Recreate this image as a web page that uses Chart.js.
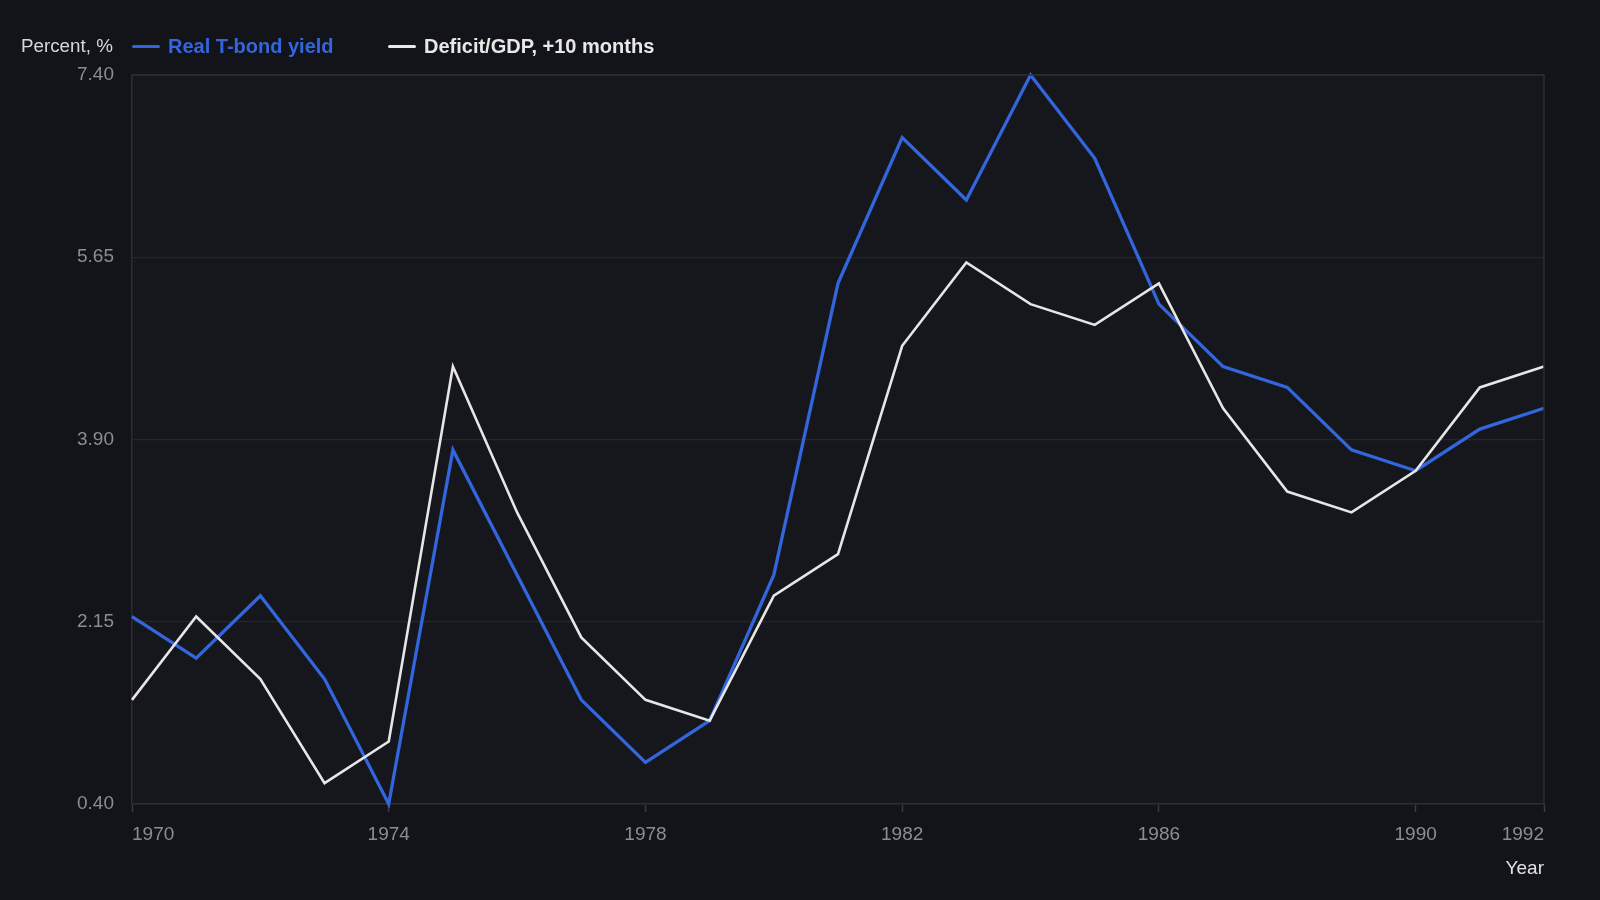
<!DOCTYPE html>
<html lang="en">
<head>
    <meta charset="UTF-8">
    <title>Real T-bond yield vs Deficit/GDP</title>
    <script src="https://cdn.jsdelivr.net/npm/chart.js"></script>
    <style>
        html, body { margin: 0; padding: 0; background: #131419; }
        #wrap { position: relative; width: 1600px; height: 900px; font-family: "Liberation Sans", Arial, sans-serif; }
        #header { position: absolute; top: 33px; left: 0; height: 26px; width: 1600px; }
        .unit { position: absolute; left: 21px; top: 0; font-size: 18.8px; color: #d8d8da; line-height: 26px; }
        .item { position: absolute; top: 0; font-size: 20px; font-weight: bold; line-height: 26px; white-space: nowrap; }
        .item .sw { display: inline-block; width: 28px; height: 3px; border-radius: 2px; vertical-align: middle; margin-right: 8px; position: relative; top: -1px; }
    </style>
</head>
<body>
<div id="wrap">
    <div id="header">
        <span class="unit">Percent, %</span>
        <span class="item" style="left:132px;color:#3366dd"><span class="sw" style="background:#3366dd"></span>Real T-bond yield</span>
        <span class="item" style="left:388px;color:#e8e8e8"><span class="sw" style="background:#e8e8e8"></span>Deficit/GDP, +10 months</span>
    </div>
    <canvas id="chart" width="1600" height="900"></canvas>
</div>
<script>
    // data
    const years = [1970, 1971, 1972, 1973, 1974, 1975, 1976, 1977, 1978, 1979, 1980, 1981,
                   1982, 1983, 1984, 1985, 1986, 1987, 1988, 1989, 1990, 1991, 1992];
    const bondYield = [2.20, 1.80, 2.40, 1.60, 0.40, 3.80, 2.60, 1.40, 0.80, 1.20, 2.60, 5.40,
                       6.80, 6.20, 7.40, 6.60, 5.20, 4.60, 4.40, 3.80, 3.60, 4.00, 4.20];
    const deficitGdp = [1.40, 2.20, 1.60, 0.60, 1.00, 4.60, 3.20, 2.00, 1.40, 1.20, 2.40, 2.80,
                        4.80, 5.60, 5.20, 5.00, 5.40, 4.20, 3.40, 3.20, 3.60, 4.40, 4.60];
    const xTicks = [1970, 1974, 1978, 1982, 1986, 1990, 1992];
    const yTicks = [0.40, 2.15, 3.90, 5.65, 7.40];

    const toPoints = vals => vals.map((v, i) => ({ x: years[i], y: v }));

    // background and framed plot area
    const frame = {
        id: 'frame',
        beforeDraw(chart) {
            const { ctx, chartArea: a } = chart;
            ctx.save();
            ctx.fillStyle = '#131419';
            ctx.fillRect(0, 0, chart.width, chart.height);
            ctx.fillStyle = '#16171c';
            ctx.fillRect(a.left, a.top, a.right - a.left, a.bottom - a.top);
            ctx.restore();
        },
        afterDatasetsDraw(chart) {
            const { ctx, chartArea: a } = chart;
            ctx.save();
            ctx.strokeStyle = '#2c2d33';
            ctx.lineWidth = 1.5;
            ctx.beginPath();
            ctx.moveTo(a.left, a.top);
            ctx.lineTo(a.right, a.top);
            ctx.lineTo(a.right, a.bottom);
            ctx.stroke();
            ctx.restore();
        }
    };

    Chart.defaults.font.family = '"Liberation Sans", Arial, sans-serif';
    Chart.defaults.animation = false;

    new Chart(document.getElementById('chart'), {
        type: 'line',
        data: {
            datasets: [
                {
                    label: 'Deficit/GDP, +10 months',
                    data: toPoints(deficitGdp),
                    borderColor: '#e6e6e6',
                    borderWidth: 2.6,
                    pointRadius: 0,
                    tension: 0
                },
                {
                    label: 'Real T-bond yield',
                    data: toPoints(bondYield),
                    borderColor: '#3366dd',
                    borderWidth: 3.3,
                    pointRadius: 0,
                    tension: 0
                }
            ]
        },
        options: {
            responsive: false,
            clip: false,
            layout: { padding: { top: 75, right: 56, bottom: 0, left: 0 } },
            plugins: {
                legend: { display: false },
                tooltip: { enabled: false }
            },
            scales: {
                x: {
                    type: 'linear',
                    min: 1970,
                    max: 1992,
                    afterBuildTicks: s => { s.ticks = xTicks.map(v => ({ value: v })); },
                    afterFit: s => { s.height = 96; },
                    grid: {
                        drawOnChartArea: false,
                        drawTicks: true,
                        tickLength: 8,
                        tickColor: '#3a3b41',
                        tickWidth: 1.5
                    },
                    border: { display: true, color: '#2c2d33', width: 1.5 },
                    ticks: {
                        align: 'inner',
                        padding: 11,
                        color: '#8c8d93',
                        font: { size: 19 },
                        maxRotation: 0,
                        callback: v => String(v)
                    },
                    title: {
                        display: true,
                        text: 'Year',
                        align: 'end',
                        color: '#e2e2e4',
                        font: { size: 19 },
                        padding: { top: 0, bottom: 20 }
                    }
                },
                y: {
                    min: 0.4,
                    max: 7.4,
                    afterBuildTicks: s => { s.ticks = yTicks.map(v => ({ value: v })); },
                    afterFit: s => { s.width = 132; },
                    grid: {
                        color: '#25262b',
                        lineWidth: 1.2,
                        drawTicks: false
                    },
                    border: { display: true, color: '#2c2d33', width: 1.5 },
                    ticks: {
                        padding: 18,
                        color: '#8c8d93',
                        font: { size: 19 },
                        callback: v => v.toFixed(2)
                    }
                }
            }
        },
        plugins: [frame]
    });
</script>
</body>
</html>
